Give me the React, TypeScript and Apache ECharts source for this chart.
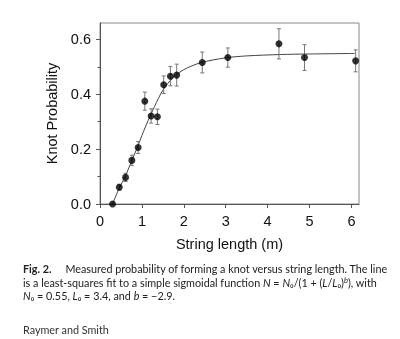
import React, { useEffect, useRef } from "react";
import * as echarts from "echarts";

// Data
const lengths = [0.3, 0.46, 0.61, 0.76, 0.91, 1.07, 1.22, 1.37, 1.52, 1.68, 1.83, 2.44, 3.05, 4.27, 4.88, 6.1];
const probs = [0.0, 0.061, 0.097, 0.159, 0.206, 0.375, 0.321, 0.318, 0.435, 0.466, 0.47, 0.516, 0.534, 0.584, 0.534, 0.522];
const errors = [0.0, 0.011, 0.015, 0.019, 0.022, 0.033, 0.026, 0.028, 0.032, 0.035, 0.04, 0.038, 0.035, 0.055, 0.047, 0.04];

const fitLengths = [0.3, 0.45, 0.6, 0.75, 0.9, 1.0, 1.15, 1.3, 1.5, 1.75, 2.0, 2.4, 3.0, 3.5, 4.3, 5.0, 6.08];
const fitProbs = [0.0, 0.055, 0.1, 0.155, 0.21, 0.25, 0.305, 0.355, 0.415, 0.462, 0.49, 0.515, 0.533, 0.54, 0.545, 0.547, 0.549];

const xTicks = [0, 1, 2, 3, 4, 5, 6];
const yTicks = [0, 0.2, 0.4, 0.6];
const yMinorTicks = [0.1, 0.3, 0.5];

const xName = "String length (m)";
const yName = "Knot Probability";

const captionLine1 = "{b|Fig. 2.}     {r|Measured probability of forming a knot versus string length. The line}";
const captionLine2 = "{r|is a least-squares fit to a simple sigmoidal function }{i|N}{r| = }{i|N}{r|₀/(1 + (}{i|L}{r|/}{i|L}{r|₀)}{s|b}{r|), with}";
const captionLine3 = "{i|N}{r|₀ = 0.55, }{i|L}{r|₀ = 3.4, and }{i|b}{r| = −2.9.}";
const credit = "Raymer and Smith";

export default function App() {
  const ref = useRef<HTMLDivElement>(null);
  useEffect(() => {
    const chart = echarts.init(ref.current!, null, { renderer: "svg" });
    const axisColor = "#555";
    const font = "'Liberation Sans', Arial, sans-serif";
    const capFont = "Lato, 'Open Sans', sans-serif";
    const capSize = 10.8;
    const capColor = "#222";
    const rich = {
      b: { fontFamily: capFont, fontSize: capSize, fontWeight: "bold", fill: capColor, color: capColor },
      r: { fontFamily: capFont, fontSize: capSize, fill: capColor, color: capColor },
      i: { fontFamily: capFont, fontSize: capSize, fontStyle: "italic", fill: capColor, color: capColor },
      s: { fontFamily: capFont, fontSize: 7.5, fontStyle: "italic", fill: capColor, color: capColor, padding: [0, 0, 5, 0] },
    };
    const points = lengths.map((x, i) => [x, probs[i], errors[i]]);
    const fit = fitLengths.map((x, i) => [x, fitProbs[i]]);

    chart.setOption({
      animation: false,
      grid: [
        { left: 100, right: 41, top: 23, bottom: 135, show: true, borderColor: "#888", borderWidth: 1 },
        { left: 100, right: 41, top: 23, bottom: 135 },
      ],
      xAxis: [
        {
          type: "value",
          gridIndex: 0,
          min: 0,
          max: 6.18,
          interval: 1,
          splitLine: { show: false },
          axisLine: { show: true, onZero: false, lineStyle: { color: axisColor } },
          axisTick: { show: true, length: 4, customValues: xTicks, lineStyle: { color: axisColor } },
          axisLabel: { customValues: xTicks, margin: 9, fontSize: 14.5, fontFamily: font, color: "#111" },
          name: xName,
          nameLocation: "middle",
          nameGap: 32,
          nameTextStyle: { fontSize: 14.5, fontFamily: font, color: "#111" },
        },
        { type: "value", gridIndex: 1, min: 0, max: 6.18, show: false },
      ],
      yAxis: [
        {
          type: "value",
          gridIndex: 0,
          min: 0,
          max: 0.66,
          interval: 0.2,
          splitLine: { show: false },
          axisLine: { show: true, onZero: false, lineStyle: { color: axisColor } },
          axisTick: { show: true, length: 4, customValues: yTicks, lineStyle: { color: axisColor } },
          axisLabel: {
            customValues: yTicks,
            margin: 9,
            fontSize: 14.5,
            fontFamily: font,
            color: "#111",
            formatter: (v: number) => v.toFixed(1),
          },
          name: yName,
          nameLocation: "middle",
          nameGap: 36,
          nameTextStyle: { fontSize: 14.5, fontFamily: font, color: "#111" },
        },
        {
          type: "value",
          gridIndex: 1,
          min: 0,
          max: 0.66,
          interval: 0.1,
          splitLine: { show: false },
          axisLine: { show: false },
          axisLabel: { show: false },
          axisTick: { show: true, length: 2.5, customValues: yMinorTicks, lineStyle: { color: axisColor } },
        },
      ],
      series: [
        {
          type: "line",
          data: fit,
          smooth: 0.3,
          showSymbol: false,
          symbol: "none",
          lineStyle: { color: "#444", width: 1 },
          z: 2,
        },
        {
          type: "custom",
          data: points,
          z: 3,
          renderItem: (params: any, api: any) => {
            const x = api.value(0);
            const y = api.value(1);
            const e = api.value(2);
            if (!e) return { type: "group", children: [] };
            const lo = api.coord([x, y - e]);
            const hi = api.coord([x, y + e]);
            const cap = 2;
            const style = { stroke: "#777", lineWidth: 1 };
            return {
              type: "group",
              children: [
                { type: "line", shape: { x1: lo[0], y1: lo[1], x2: hi[0], y2: hi[1] }, style },
                { type: "line", shape: { x1: lo[0] - cap, y1: lo[1], x2: lo[0] + cap, y2: lo[1] }, style },
                { type: "line", shape: { x1: hi[0] - cap, y1: hi[1], x2: hi[0] + cap, y2: hi[1] }, style },
              ],
            };
          },
        },
        {
          type: "scatter",
          data: points.map((p) => [p[0], p[1]]),
          symbol: "circle",
          symbolSize: 7,
          itemStyle: { color: "#000" },
          z: 4,
        },
      ],
      graphic: [
        { type: "text", left: 23, top: 263, style: { text: captionLine1, rich, fill: capColor, font: `${capSize}px ${capFont}` } },
        { type: "text", left: 23, top: 276, style: { text: captionLine2, rich, fill: capColor, font: `${capSize}px ${capFont}` } },
        { type: "text", left: 23, top: 290, style: { text: captionLine3, rich, fill: capColor, font: `${capSize}px ${capFont}` } },
        { type: "text", left: 23, top: 324, style: { text: credit, fill: "#333", font: `${capSize}px ${capFont}` } },
      ],
    });
    return () => chart.dispose();
  }, []);
  return <div ref={ref} style={{ position: "fixed", left: 0, top: 0, width: 400, height: 339 }} />;
}
